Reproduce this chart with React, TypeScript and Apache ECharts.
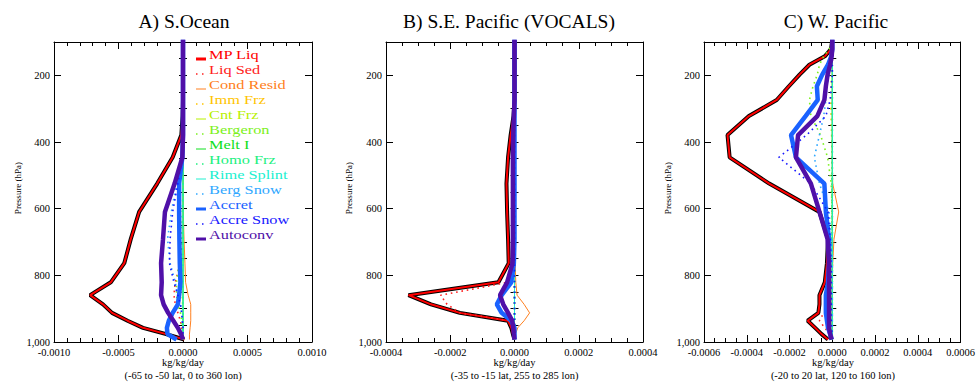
import React, { useEffect, useRef } from "react";
import * as echarts from "echarts";

// Pressure levels (hPa) at which the profiles are given
const LEVELS = [87.0, 103.3, 121.5, 143.0, 168.2, 197.9, 232.8, 273.9, 322.2, 379.1, 446.0, 524.7, 609.8, 691.4, 763.4, 820.9, 859.5, 887.0, 912.6, 936.2, 957.5, 976.3, 992.6];
const Y_TICKS = [200, 400, 600, 800, 1000];
const UNIT = 1e-5; // all profile values below are in 1e-5 kg/kg/day

const NAMES = ["MP Liq", "Liq Sed", "Cond Resid", "Imm Frz", "Cnt Frz", "Bergeron", "Melt I", "Homo Frz", "Rime Splint", "Berg Snow", "Accret", "Accre Snow", "Autoconv"];

// Panel A: S.Ocean
const A_MP_LIQ = [0, 0, 0, 0, 0, 0, 0, 0, -0.3, -1.3, -8, -20, -34, -40.5, -45.5, -56, -72, -62, -55, -43, -31, -13, 1];
const A_LIQ_SED = [0, 0, 0, 0, 0, 0, 0, 0, 0, 0, 0, 0, 0, -0.5, -2, -6, -7, -6, -4, -2, -1, -0.5, 0];
const A_COND_RESID = [0, 0, 0, 0, 0, 0, 0, 0, 0, 0, 0, 0, 0.2, 0.8, 1.5, 2, 4, 6, 6, 6, 5.5, 5, 5];
const A_IMM_FRZ = [0, 0, 0, 0, 0, 0, 0, 0, 0, 0, 0, 0, 0, -0.3, -0.6, -0.8, -0.6, -0.3, 0, 0, 0, 0, 0];
const A_CNT_FRZ = [0, 0, 0, 0, 0, 0, 0, 0, 0, 0, 0, 0, 0, 0, 0, 0, 0, 0, 0, 0, 0, 0, 0];
const A_BERGERON = [0, 0, 0, 0, 0, 0, 0, 0, 0, 0, 0, 0, -0.5, -1, -3, -5, -5, -4, -2, -1, -0.5, 0, 0];
const A_MELT_I = [0, 0, 0, 0, 0, 0, 0, 0, 0, 0, 0, 0, 0, 0, 0, 0, 0, 0, 0, 0, 0, 0, 0];
const A_HOMO_FRZ = [0, 0, 0, 0, 0, 0, 0, 0, 0, 0, 0, 0, 0, 0, 0, 0, 0, 0, 0, 0, 0, 0, 0];
const A_RIME_SPLINT = [0, 0, 0, 0, 0, 0, 0, 0, 0, 0, 0, 0, 0, 0, 0, 0, 0, 0, 0, 0, 0, 0, 0];
const A_BERG_SNOW = [0, 0, 0, 0, 0, 0, 0, 0, 0, 0, -1, -5, -9, -12, -10, -6, -4, -2, -1, -0.5, 0, 0, 0];
const A_ACCRET = [0, 0, 0, 0, 0, 0, 0, 0, 0, 0, -0.5, -3, -3, -2.8, -2.5, -2, -3, -4, -8, -11, -12.5, -12, -5];
const A_ACCRE_SNOW = [0, 0, 0, 0, 0, 0, 0, 0, 0, 0, -0.5, -4, -8, -10, -10.5, -7, -4, -2, -1, -0.5, 0, 0, 0];
const A_AUTOCONV = [0, 0, 0, 0, 0, 0, 0, 0, 0, 0, -0.5, -6.5, -14, -15.5, -17, -16.5, -17, -15, -11.5, -7.5, -4, -1.5, 0];

// Panel B: S.E. Pacific (VOCALS)
const B_MP_LIQ = [0, 0, 0, 0, 0, 0, 0, 0, -0.3, -1.2, -2, -2.5, -2.3, -2, -1.8, -5, -33, -26, -17, -2, -1, -0.5, 0];
const B_LIQ_SED = [0, 0, 0, 0, 0, 0, 0, 0, 0, 0, 0, 0, 0, 0, 0, -2, -23, -21, -17, -1.5, 0, 0, 0];
const B_COND_RESID = [0, 0, 0, 0, 0, 0, 0, 0, 0, 0, 0, 0, 0, 0, 0.2, 0.4, 0.8, 3, 4.7, 3, 1, 0.3, 0];
const B_IMM_FRZ = [0, 0, 0, 0, 0, 0, 0, 0, 0, 0, 0, 0, 0, 0, 0, 0, 0, 0, 0, 0, 0, 0, 0];
const B_CNT_FRZ = [0, 0, 0, 0, 0, 0, 0, 0, 0, 0, 0, 0, 0, 0, 0, 0, 0, 0, 0, 0, 0, 0, 0];
const B_BERGERON = [0, 0, 0, 0, 0, 0, 0, 0, 0, 0, 0, 0, 0, 0, 0, 0, 0, 0, 0, 0, 0, 0, 0];
const B_MELT_I = [0, 0, 0, 0, 0, 0, 0, 0, 0, 0, 0, 0, 0, 0, 0, 0, 0, 0, 0, 0, 0, 0, 0];
const B_HOMO_FRZ = [0, 0, 0, 0, 0, 0, 0, 0, 0, 0, 0, 0, 0, 0, 0, 0, 0, 0, 0, 0, 0, 0, 0];
const B_RIME_SPLINT = [0, 0, 0, 0, 0, 0, 0, 0, 0, 0, 0, 0, 0, 0, 0, 0, 0, 0, 0, 0, 0, 0, 0];
const B_BERG_SNOW = [0, 0, 0, 0, 0, 0, 0, 0, 0, 0, 0, 0, 0, 0, 0, 0, 0, 0, 0, 0, 0, 0, 0];
const B_ACCRET = [0, 0, 0, 0, 0, 0, 0, 0, 0, 0, 0, 0, 0, 0, -0.2, -1, -4, -5.5, -4, -1, 0, 0, 0];
const B_ACCRE_SNOW = [0, 0, 0, 0, 0, 0, 0, 0, 0, 0, 0, 0, 0, 0, 0, 0, 0, 0, 0, 0, 0, 0, 0];
const B_AUTOCONV = [0, 0, 0, 0, 0, 0, 0, 0, -0.2, -0.4, -0.5, -0.5, -0.5, -0.5, -0.6, -2.3, -4.5, -3.5, -2, -0.7, -0.4, -0.2, 0];

// Panel C: W. Pacific
const C_MP_LIQ = [0, -0.2, -0.6, -3.5, -10.7, -15.3, -20.3, -26, -39, -49, -48, -29.5, -6, -2, -2.5, -3.5, -6, -6, -6.5, -11.5, -8, -5, -2];
const C_LIQ_SED = [0, 0, 0, 0, 0, 0, 0, 0, 0, 0, 0, 0, 0, 0, 0, 0, 0, -0.5, -4, -6, -3.5, -1, 0];
const C_COND_RESID = [0, 0, 0, 0, 0, 0, 0, 0, 0, 0, 0, 0.2, 3, 0.8, 0.2, 0, 0, 0, 0, 0, 0, 0, 0];
const C_IMM_FRZ = [0, 0, 0, 0, 0, -0.3, -0.6, -0.8, -0.6, -0.3, 0, 0, 0, 0, 0, 0, 0, 0, 0, 0, 0, 0, 0];
const C_CNT_FRZ = [0, 0, 0, 0, 0, 0, 0, 0, 0, 0, 0, 0, 0, 0, 0, 0, 0, 0, 0, 0, 0, 0, 0];
const C_BERGERON = [0, 0, -1.5, -4, -6, -7, -9, -10.7, -10, -5.5, -2.2, -0.5, 0, 0, 0, 0, 0, 0, 0, 0, 0, 0, 0];
const C_MELT_I = [0, 0, 0, 0, 0, 0, 0, 0, 0, 0, 0, 0, 0, 0, 0, 0, 0, 0, 0, 0, 0, 0, 0];
const C_HOMO_FRZ = [0, 0, 0, 0, 0, 0, 0, 0, 0, 0, 0, 0, 0, 0, 0, 0, 0, 0, 0, 0, 0, 0, 0];
const C_RIME_SPLINT = [0, 0, 0, 0, 0, 0, 0, 0, 0, 0, 0, 0, 0, 0, 0, 0, 0, 0, 0, 0, 0, 0, 0];
const C_BERG_SNOW = [0, 0, 0, 0, -0.5, -1.5, -2.5, -3, -4, -6, -8.4, -6, -1.5, -0.5, 0, 0, 0, 0, 0, 0, 0, 0, 0];
const C_ACCRET = [0, 0, 0, -0.5, -2, -4.7, -7.2, -6.8, -12.5, -19.3, -17, -3.7, -3, -1.5, -1.5, -2, -3, -3, -3, -2.5, -2, -1, -0.3];
const C_ACCRE_SNOW = [0, 0, 0, 0, 0, 0, -0.5, -1, -3, -12, -25, -10, -2, -1, -0.5, -0.5, -0.5, -0.5, -0.5, -0.5, -0.3, 0, 0];
const C_AUTOCONV = [0, 0, 0, -0.3, -1, -2.2, -3, -3.7, -7, -16, -17, -10, -6, -2.2, -1.5, -1.5, -1.5, -1.5, -1.5, -1.5, -1.5, -1, -0.3];

const PANEL_DATA = [
  [A_MP_LIQ, A_LIQ_SED, A_COND_RESID, A_IMM_FRZ, A_CNT_FRZ, A_BERGERON, A_MELT_I, A_HOMO_FRZ, A_RIME_SPLINT, A_BERG_SNOW, A_ACCRET, A_ACCRE_SNOW, A_AUTOCONV],
  [B_MP_LIQ, B_LIQ_SED, B_COND_RESID, B_IMM_FRZ, B_CNT_FRZ, B_BERGERON, B_MELT_I, B_HOMO_FRZ, B_RIME_SPLINT, B_BERG_SNOW, B_ACCRET, B_ACCRE_SNOW, B_AUTOCONV],
  [C_MP_LIQ, C_LIQ_SED, C_COND_RESID, C_IMM_FRZ, C_CNT_FRZ, C_BERGERON, C_MELT_I, C_HOMO_FRZ, C_RIME_SPLINT, C_BERG_SNOW, C_ACCRET, C_ACCRE_SNOW, C_AUTOCONV],
];

const TITLES = ["A) S.Ocean", "B) S.E. Pacific (VOCALS)", "C) W. Pacific"];
const REGIONS = ["(-65 to -50 lat, 0 to 360 lon)", "(-35 to -15 lat, 255 to 285 lon)", "(-20 to 20 lat, 120 to 160 lon)"];
const X_MAX = [0.001, 0.0004, 0.0006];
const X_INTERVAL = [0.0005, 0.0002, 0.0002];
const X_MINOR = [5, 4, 4];

// layout & styles
const FONT = "Liberation Serif, Times New Roman, Times, serif";
const GRID_LEFT = [54, 386, 704];
const GRID_WIDTH = [258, 257, 258];
const TITLE_X = [184, 509, 836];
const YNAME_X = [18, 349, 668];
const GRID_TOP = 42;
const GRID_H = 300;
const COLORS = ["#ff0000", "#ff2020", "#ff8020", "#ffc400", "#b8f000", "#7cf020", "#10e020", "#20f080", "#20f0d0", "#30a8ff", "#1a62ff", "#1818ff", "#5010a8"];
const KINDS = ["mp", "dot", "solid", "dot", "solid", "dot", "solid", "dot", "solid", "dot", "thick", "dot", "thick"];

const fmtX = (v: number) => (Math.abs(v) < 1e-12 ? 0 : v).toFixed(4);

export default function App() {
  const ref = useRef<HTMLDivElement>(null);
  useEffect(() => {
    document.body.style.margin = "0";
    if (!ref.current) return;
    const chart = echarts.init(ref.current, undefined, { renderer: "svg" });

    const grids: any[] = [];
    const xAxes: any[] = [];
    const yAxes: any[] = [];
    const series: any[] = [];
    const graphics: any[] = [];
    const black = { color: "#000", width: 1 };
    const txt = (text: string, size: number, fill: string, align: string, lineHeight?: number) => ({
      text, fill, fontSize: size, fontFamily: FONT, lineHeight: lineHeight || size,
      textAlign: align, textVerticalAlign: "middle", align, verticalAlign: "middle",
    });

    for (let g = 0; g < 3; g++) {
      grids.push({ left: GRID_LEFT[g], top: GRID_TOP, width: GRID_WIDTH[g], height: GRID_H, containLabel: false });
      const xBase = {
        gridIndex: g, type: "value", min: -X_MAX[g], max: X_MAX[g], interval: X_INTERVAL[g],
        axisLine: { show: true, onZero: false, lineStyle: black },
        axisTick: { show: true, inside: true, length: 7, lineStyle: black },
        minorTick: { show: true, splitNumber: X_MINOR[g], length: 4, lineStyle: black },
        splitLine: { show: false }, minorSplitLine: { show: false },
      };
      xAxes.push({
        ...xBase, position: "bottom",
        axisLabel: { show: true, margin: 5, fontSize: 10.5, fontFamily: FONT, color: "#000", formatter: fmtX, showMinLabel: true, showMaxLabel: true, hideOverlap: false },
      });
      xAxes.push({ ...xBase, position: "top", axisLabel: { show: false } });

      const yBase = { gridIndex: g, type: "value", inverse: true, min: 100, max: 1000, splitLine: { show: false } };
      yAxes.push({
        ...yBase, position: "left",
        axisLine: { show: true, onZero: false, lineStyle: black },
        axisTick: { show: true, inside: true, length: 7, lineStyle: black, customValues: Y_TICKS },
        axisLabel: { show: true, margin: 4, fontSize: 10.5, fontFamily: FONT, color: "#000", customValues: Y_TICKS },
      });
      yAxes.push({
        ...yBase, position: "left", interval: 50,
        axisLine: { show: false }, axisLabel: { show: false },
        axisTick: { show: true, inside: true, length: 4, lineStyle: black },
      });
      yAxes.push({
        ...yBase, position: "right",
        axisLine: { show: true, onZero: false, lineStyle: black },
        axisTick: { show: true, inside: true, length: 7, lineStyle: black, customValues: Y_TICKS },
        axisLabel: { show: false },
      });
      yAxes.push({
        ...yBase, position: "right", interval: 50,
        axisLine: { show: false }, axisLabel: { show: false },
        axisTick: { show: true, inside: true, length: 4, lineStyle: black },
      });

      PANEL_DATA[g].forEach((vals, i) => {
        const data = LEVELS.map((p, k) => [vals[k] * UNIT, p]);
        const common = {
          type: "line", xAxisIndex: g * 2, yAxisIndex: g * 4, data, showSymbol: false, symbol: "none",
          silent: true, animation: false, clip: true,
        };
        const kind = KINDS[i];
        if (kind === "mp") {
          series.push({ ...common, name: NAMES[i] + " outline", lineStyle: { color: "#000", width: 4 } });
          series.push({ ...common, name: NAMES[i], lineStyle: { color: COLORS[i], width: 2 } });
        } else if (kind === "dot") {
          series.push({ ...common, name: NAMES[i], lineStyle: { color: COLORS[i], width: 1.6, type: [1.6, 3.8], cap: "butt" } });
        } else if (kind === "thick") {
          series.push({ ...common, name: NAMES[i], lineStyle: { color: COLORS[i], width: 4.5 } });
        } else {
          series.push({ ...common, name: NAMES[i], lineStyle: { color: COLORS[i], width: 1 } });
        }
      });

      const cx = GRID_LEFT[g] + GRID_WIDTH[g] / 2;
      graphics.push({ type: "text", x: TITLE_X[g], y: 21.5, silent: true, style: txt(TITLES[g], 19.5, "#000", "center") });
      graphics.push({ type: "text", x: cx, y: 362.5, silent: true, style: txt("kg/kg/day", 10.5, "#000", "center", 11) });
      graphics.push({ type: "text", x: cx, y: 375.5, silent: true, style: txt(REGIONS[g], 10.5, "#000", "center", 11) });
      graphics.push({ type: "text", x: YNAME_X[g], y: 188, rotation: Math.PI / 2, silent: true, style: txt("Pressure (hPa)", 9, "#000", "center") });
    }

    // legend inside panel A (rows are 15 px apart, like the reference)
    NAMES.forEach((name, i) => {
      const yc = 54 + 15 * i;
      const kind = KINDS[i];
      graphics.push({
        type: "line", silent: true,
        shape: { x1: 196, y1: yc + 5, x2: 206, y2: yc + 5 },
        style: {
          stroke: COLORS[i],
          lineWidth: kind === "mp" || kind === "thick" ? 3 : kind === "dot" ? 1.5 : 1,
          lineDash: kind === "dot" ? [1.5, 4.5] : null,
        },
      });
      graphics.push({
        type: "text", x: 209, y: yc + 0.5, scaleX: 1.22, silent: true,
        style: txt(name, 13.4, COLORS[i], "left", 13.4),
      });
    });

    chart.setOption({
      animation: false,
      backgroundColor: "#fff",
      grid: grids,
      xAxis: xAxes,
      yAxis: yAxes,
      series,
      graphic: { elements: graphics },
    });
    return () => chart.dispose();
  }, []);
  return <div ref={ref} style={{ width: 978, height: 382 }} />;
}
